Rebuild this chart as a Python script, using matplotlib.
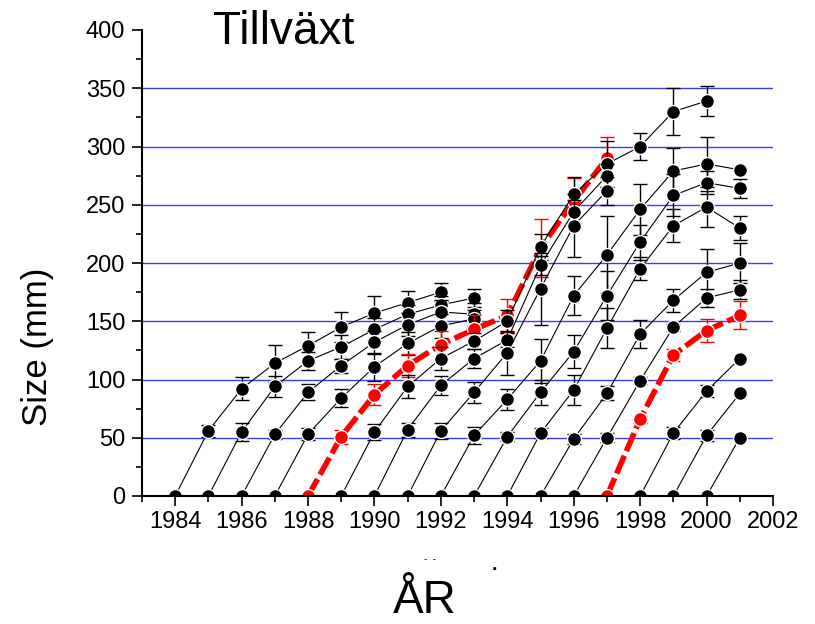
import matplotlib
matplotlib.use("Agg")
import matplotlib.pyplot as plt
from matplotlib.ticker import MultipleLocator

plt.rcParams["font.family"] = ["Liberation Sans", "DejaVu Sans"]

# Mean size (mm) and error per cohort, one value per year from the cohort's
# first year (where size is 0) onwards.
c1984_size = [0, 56, 92, 114, 129, 145, 157, 166, 175]
c1984_err = [0, 5, 10, 16, 12, 13, 15, 10, 8]
c1985_size = [0, 55, 94, 116, 128, 143, 156, 164, 170]
c1985_err = [0, 8, 9, 8, 10, 10, 8, 8, 8]
c1986_size = [0, 53, 89, 112, 132, 147, 158, 156]
c1986_err = [0, 4, 7, 6, 10, 10, 10, 10]
c1987_size = [0, 53, 84, 111, 131, 146, 152]
c1987_err = [0, 5, 8, 12, 10, 10, 8]
c1988_size = [0, 51, 87, 112, 130, 143, 155, 213, 253, 290]
c1988_err = [0, 6, 9, 10, 12, 12, 14, 25, 20, 18]
c1989_size = [0, 55, 94, 118, 133, 150, 214, 259, 285, 300, 330, 339]
c1989_err = [0, 7, 10, 10, 7, 10, 11, 15, 20, 12, 20, 13]
c1990_size = [0, 57, 95, 118, 134, 198, 244, 275]
c1990_err = [0, 6, 8, 8, 6, 8, 10, 10]
c1991_size = [0, 56, 89, 123, 178, 232, 262]
c1991_err = [0, 7, 9, 19, 31, 27, 12]
c1992_size = [0, 52, 83, 116, 172, 207, 246, 279, 285, 280]
c1992_err = [0, 7, 9, 19, 17, 33, 22, 20, 23, 0]
c1993_size = [0, 51, 89, 124, 172, 218, 258, 269, 264]
c1993_err = [0, 4, 11, 14, 21, 15, 18, 10, 8]
c1994_size = [0, 54, 91, 144, 195, 232, 248, 230]
c1994_err = [0, 4, 13, 17, 10, 14, 17, 10]
c1995_size = [0, 49, 88, 139, 168, 192, 200]
c1995_err = [0, 4, 6, 12, 10, 20, 17]
c1996_size = [0, 50, 99, 145, 170, 177]
c1996_err = [0, 4, 3, 3, 8, 8]
c1997_size = [0, 66, 121, 142, 155]
c1997_err = [0, 3, 5, 10, 12]
c1998_size = [0, 54, 90, 118]
c1998_err = [0, 5, 5, 0]
c1999_size = [0, 52, 88]
c1999_err = [0, 5, 0]
c2000_size = [0, 50]
c2000_err = [0, 0]

cohorts = [
    (1984, c1984_size, c1984_err), (1985, c1985_size, c1985_err),
    (1986, c1986_size, c1986_err), (1987, c1987_size, c1987_err),
    (1988, c1988_size, c1988_err), (1989, c1989_size, c1989_err),
    (1990, c1990_size, c1990_err), (1991, c1991_size, c1991_err),
    (1992, c1992_size, c1992_err), (1993, c1993_size, c1993_err),
    (1994, c1994_size, c1994_err), (1995, c1995_size, c1995_err),
    (1996, c1996_size, c1996_err), (1997, c1997_size, c1997_err),
    (1998, c1998_size, c1998_err), (1999, c1999_size, c1999_err),
    (2000, c2000_size, c2000_err),
]
highlighted = {1988, 1997}

W, H = 815, 624
fig = plt.figure(figsize=(W / 100, H / 100), dpi=100)
ax = fig.add_axes([142 / W, 1 - 496 / H, (773 - 142) / W, (496 - 30) / H])

for level in range(50, 400, 50):
    ax.axhline(level, color="#3a3aff", lw=1.0, zorder=1)

for i, (start, size, err) in enumerate(cohorts):
    years = list(range(start, start + len(size)))
    red = start in highlighted
    col = "red" if red else "black"
    z = 3 + i * 0.1
    ex = [y for y, e in zip(years, err) if e > 0]
    ey = [s for s, e in zip(size, err) if e > 0]
    ee = [e for e in err if e > 0]
    if ex:
        ax.errorbar(ex, ey, yerr=ee, fmt="none", ecolor=col, elinewidth=1.0,
                    capsize=5, capthick=1.0, zorder=z)
    ax.plot(years, size, color=col,
            lw=4.0 if red else 0.8,
            ls=(0, (3.5, 0.9)) if red else "-",
            marker="o", ms=10, mfc=col, mec="white", mew=1.0,
            zorder=z + 0.05)

ax.set_xlim(1983, 2002)
ax.set_ylim(0, 400)
ax.set_xticks(range(1984, 2003, 2))
ax.xaxis.set_minor_locator(MultipleLocator(1))
ax.set_yticks(range(0, 401, 50))
ax.yaxis.set_minor_locator(MultipleLocator(25))

for side in ("top", "right"):
    ax.spines[side].set_visible(False)
for side in ("left", "bottom"):
    ax.spines[side].set_linewidth(1.5)
    ax.spines[side].set_zorder(10)

ax.tick_params(which="major", direction="out", length=7, width=1.2,
               labelsize=17)
ax.tick_params(which="minor", direction="out", length=4, width=1.2)
ax.tick_params(axis="x", pad=4)
ax.tick_params(axis="y", pad=5)

fig.text(213 / W, 1 - 44 / H, "Tillväxt", fontsize=33, ha="left",
         va="baseline")
fig.text(38 / W, 1 - 347 / H, "Size (mm)", fontsize=25, rotation=90,
         ha="center", va="center")
fig.text(425 / W, 1 - 613 / H, "ÅR", fontsize=33, ha="center",
         va="baseline")
# leftover marks of an older axis label above the title of the x axis
fig.text(430 / W, 1 - 562 / H, "-  -", fontsize=7, ha="center",
         va="baseline")
fig.text(494 / W, 1 - 570 / H, ".", fontsize=14, fontweight="bold",
         ha="center", va="baseline")

fig.savefig("out.png", dpi=100)
